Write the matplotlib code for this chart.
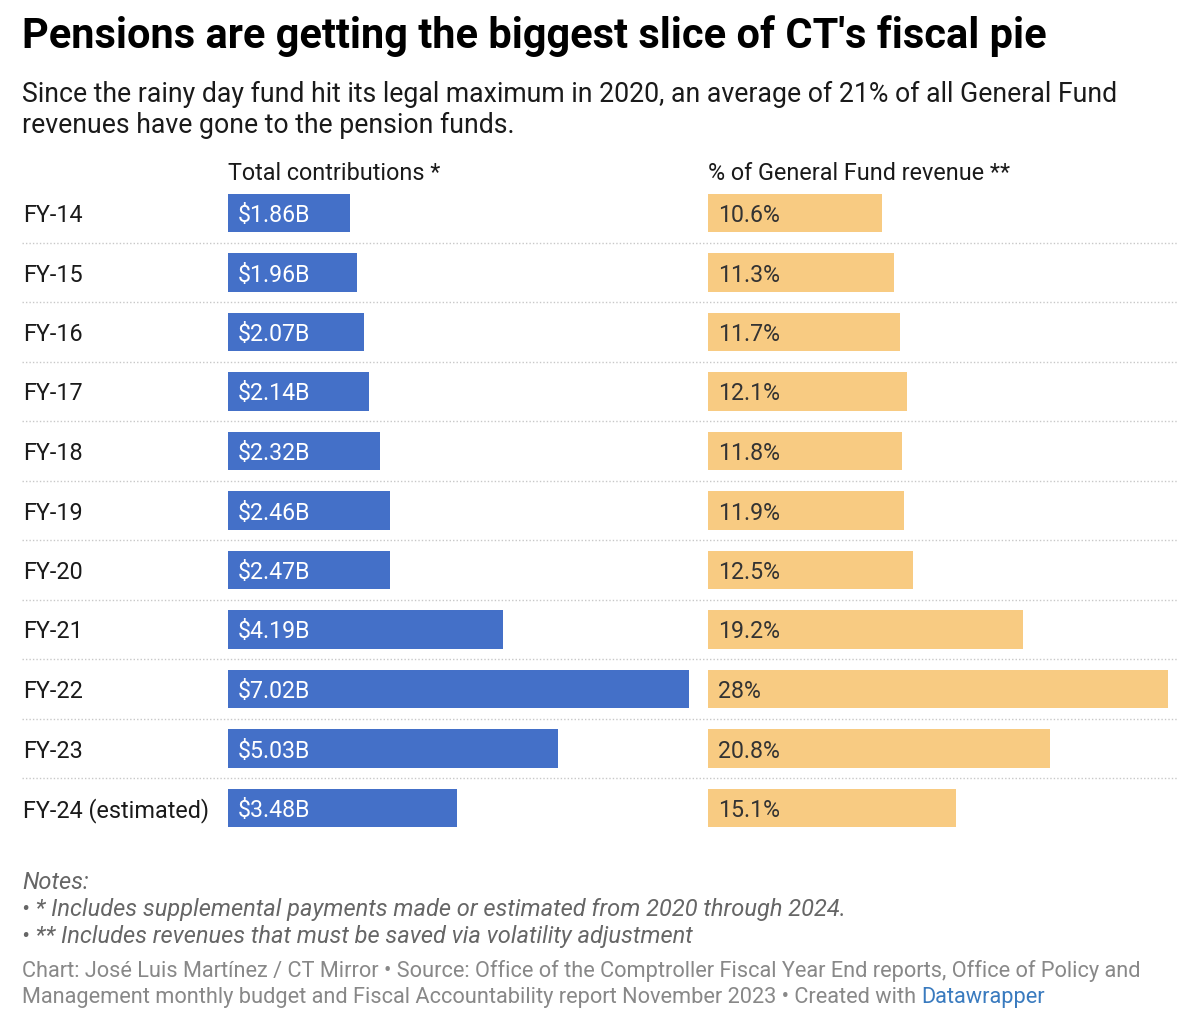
import matplotlib.pyplot as plt
from matplotlib.transforms import blended_transform_factory

plt.rcParams['font.family'] = ['Roboto', 'DejaVu Sans']

years = ["FY-14", "FY-15", "FY-16", "FY-17", "FY-18", "FY-19", "FY-20",
         "FY-21", "FY-22", "FY-23", "FY-24 (estimated)"]
contributions = [1.86, 1.96, 2.07, 2.14, 2.32, 2.46, 2.47, 4.19, 7.02, 5.03, 3.48]
pct_revenue = [10.6, 11.3, 11.7, 12.1, 11.8, 11.9, 12.5, 19.2, 28, 20.8, 15.1]

W, H = 1200, 1032
fig = plt.figure(figsize=(W / 100, H / 100), dpi=100)

def px_axes(x0, x1, y0, y1):
    # pixel box (top-left origin) -> axes
    return fig.add_axes([x0 / W, 1 - y1 / H, (x1 - x0) / W, (y1 - y0) / H])

row_top, row_bot = 183.25, 837.75
ax1 = px_axes(228, 689, row_top, row_bot)
ax2 = px_axes(708, 1168, row_top, row_bot)

blue = "#4470c8"
orange = "#f8cb82"
n = len(years)
ypos = list(range(n))
VA = "center_baseline"

ax1.barh(ypos, contributions, height=0.64, color=blue)
ax2.barh(ypos, pct_revenue, height=0.64, color=orange)
ax1.set_xlim(0, max(contributions))
ax2.set_xlim(0, max(pct_revenue))

for ax in (ax1, ax2):
    ax.set_ylim(n - 0.5, -0.5)
    ax.axis("off")

for i, v in enumerate(contributions):
    ax1.annotate(f"${v:.2f}B", xy=(0, i), xytext=(7, 0), textcoords="offset points",
                 ha="left", va=VA, color="white", fontsize=16.7)
for i, v in enumerate(pct_revenue):
    label = f"{v:g}%"
    ax2.annotate(label, xy=(0, i), xytext=(7, 0), textcoords="offset points",
                 ha="left", va=VA, color="#333333", fontsize=16.7)

# row labels and dotted separators
tr = blended_transform_factory(fig.transFigure, ax1.transData)
for i, name in enumerate(years):
    ax1.text(23 / W, i, name, transform=tr, ha="left", va=VA,
             fontsize=16.8, color="#1a1a1a")
for i in range(n - 1):
    ax1.plot([22 / W, 1177 / W], [i + 0.5, i + 0.5], transform=tr, clip_on=False,
             color="#c8c8c8", lw=1, ls=(0, (1, 1.5)))

# column headers
fig.text(228 / W, 1 - 171 / H, "Total contributions *", ha="left", va=VA,
         fontsize=16.8, color="#1a1a1a")
fig.text(708 / W, 1 - 171 / H, "% of General Fund revenue **", ha="left", va=VA,
         fontsize=16.8, color="#1a1a1a")

# title and subtitle
fig.text(22 / W, 1 - 32 / H, "Pensions are getting the biggest slice of CT's fiscal pie",
         ha="left", va=VA, fontsize=29.9, fontweight="bold", color="#000000")
fig.text(22 / W, 1 - 91 / H,
         "Since the rainy day fund hit its legal maximum in 2020, an average of 21% of all General Fund",
         ha="left", va=VA, fontsize=19.2, color="#1a1a1a")
fig.text(22 / W, 1 - 122 / H, "revenues have gone to the pension funds.",
         ha="left", va=VA, fontsize=19.2, color="#1a1a1a")

# notes
notes = ["Notes:",
         "\u2022 * Includes supplemental payments made or estimated from 2020 through 2024.",
         "\u2022 ** Includes revenues that must be saved via volatility adjustment"]
for k, line in enumerate(notes):
    fig.text(22 / W, 1 - (880 + 27 * k) / H, line, ha="left", va=VA,
             fontsize=17, style="italic", color="#666666")

# footer
fig.text(22 / W, 1 - 969 / H,
         "Chart: Jos\u00e9 Luis Mart\u00ednez / CT Mirror \u2022 Source: Office of the Comptroller Fiscal Year End reports, Office of Policy and",
         ha="left", va=VA, fontsize=15.7, color="#888888")
foot2 = fig.text(22 / W, 1 - 995 / H,
                 "Management monthly budget and Fiscal Accountability report November 2023 \u2022 Created with ",
                 ha="left", va=VA, fontsize=15.7, color="#888888")
fig.canvas.draw()
bb = foot2.get_window_extent()
fig.text(bb.x1 / W, 1 - 995 / H, "Datawrapper", ha="left", va=VA,
         fontsize=15.7, color="#3a7bbf")

fig.savefig("out.png", dpi=100, facecolor="white")
